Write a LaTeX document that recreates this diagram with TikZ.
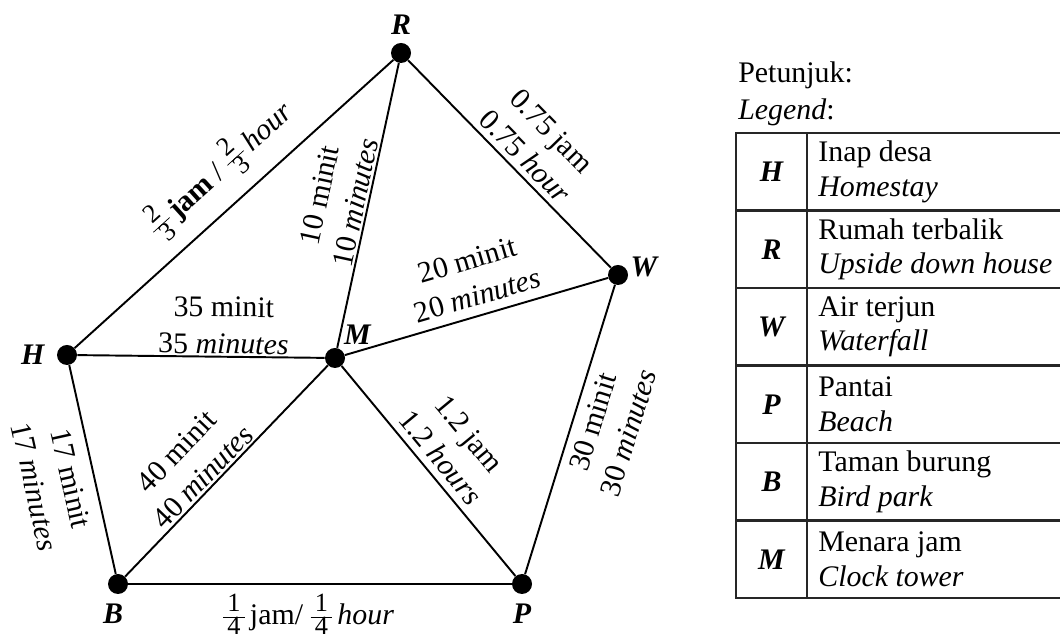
\documentclass[tikz,border=0pt]{standalone}
\usepackage{amsmath}
\usepackage{fontspec}
\setmainfont{Liberation Serif}
\usetikzlibrary{positioning}
\newcommand{\fr}[2]{$\vcenter{\hbox{\fontsize{15}{15}\selectfont\renewcommand{\arraystretch}{0.7}%
  \begin{tabular}{@{\,}c@{\,}}#1\\\hline #2\end{tabular}}}$}
\tikzset{
  vtx/.style={circle, fill=black, inner sep=0pt, minimum size=0.4cm},
  vlbl/.style={font=\fontsize{17}{20}\selectfont\bfseries\itshape, inner sep=0pt},
  road/.style={line width=1.1pt},
  elbl/.style={font=\fontsize{17}{21}\selectfont, align=center, inner sep=1pt, sloped},
  lgdhead/.style={font=\fontsize{17}{20}\selectfont, inner sep=0pt, anchor=base west},
  lgdline/.style={draw=black!85, line width=1.6pt},
  lgdkey/.style={font=\fontsize{17}{20}\selectfont\bfseries\itshape, inner sep=0pt},
  lgdtxt/.style={font=\fontsize{17}{19.8}\selectfont, align=left, anchor=west, inner sep=0pt},
}

\begin{document}
\begin{tikzpicture}
\useasboundingbox (0,0) rectangle (21.2,12.8);

% places
\node[vtx] (R) at (8.02,11.74) {};
\node[vtx] (W) at (12.36,7.30) {};
\node[vtx] (H) at (1.34,5.70) {};
\node[vtx] (M) at (6.70,5.64) {};
\node[vtx] (B) at (2.36,1.12) {};
\node[vtx] (P) at (10.44,1.12) {};
\node[vlbl, above=0.16cm of R] (lR) {R};
\node[vlbl, right=0.04cm of W, yshift=0.16cm] (lW) {W};
\node[vlbl, left=0.24cm of H] (lH) {H};
\node[vlbl, above right=0.12cm and 0.03cm of M] (lM) {M};
\node[vlbl, below=0.18cm of B, xshift=-0.1cm] (lB) {B};
\node[vlbl, below=0.18cm of P] (lP) {P};

% roads
\draw[road] (H) -- node[elbl, pos=0.53, above=4pt] (tHR) {\fr{2}{3}\,\textbf{jam} / \fr{2}{3}\,\textit{hour}} (R);
\draw[road] (M) -- node[elbl, pos=0.5, above] (tMR) {10 minit\\10 \textit{minutes}} (R);
\draw[road] (R) -- node[elbl, pos=0.52, above=2pt] (tRW) {0.75 jam\\0.75 \textit{hour}} (W);
\draw[road] (M) -- node[elbl, pos=0.525, above=4pt] (tMW) {20 minit\\20 \textit{minutes}} (W);
\draw[road] (H) -- node[elbl, pos=0.59, above] (tHM) {35 minit\\35 \textit{minutes}} (M);
\draw[road] (B) -- node[elbl, pos=0.43, above] (tBM) {40 minit\\40 \textit{minutes}} (M);
\draw[road] (M) -- node[elbl, pos=0.49, above=3pt] (tMP) {1.2 jam\\1.2 \textit{hours}} (P);
\draw[road] (H) -- node[elbl, pos=0.52, below=6pt] (tHB) {17 minit\\17 \textit{minutes}} (B);
\draw[road] (P) -- node[elbl, pos=0.546, below=4pt] (tPW) {30 minit\\30 \textit{minutes}} (W);
\draw[road] (B) -- node[elbl, pos=0.47, below=4pt] (tBP) {\fr{1}{4}\,jam/ \fr{1}{4}\,\textit{hour}} (P);

% legend
\node[lgdhead] (pet) at (14.76,11.14) {Petunjuk:};
\node[lgdhead] (leg) at (14.76,10.40) {\textit{Legend}:};
\draw[lgdline] (21.3,10.14) -- (14.72,10.14) -- (14.72,0.84) -- (21.3,0.84);
\draw[lgdline] (16.14,10.14) -- (16.14,0.84);
\foreach \r in {1,...,5}
  \draw[lgdline] (14.72,{10.14-1.55*\r}) -- (21.3,{10.14-1.55*\r});
\foreach \k/\a/\b [count=\i from 0] in {H/Inap desa/Homestay, R/Rumah terbalik/Upside down house, W/Air terjun/Waterfall, P/Pantai/Beach, B/Taman burung/Bird park, M/Menara jam/Clock tower} {
  \node[lgdkey] (key\k) at (15.43,{10.14-1.55*\i-0.775}) {\k};
  \node[lgdtxt] (txt\k) at (16.36,{10.14-1.55*\i-0.775}) {\a\\\textit{\b}};
}
\end{tikzpicture}
\end{document}
